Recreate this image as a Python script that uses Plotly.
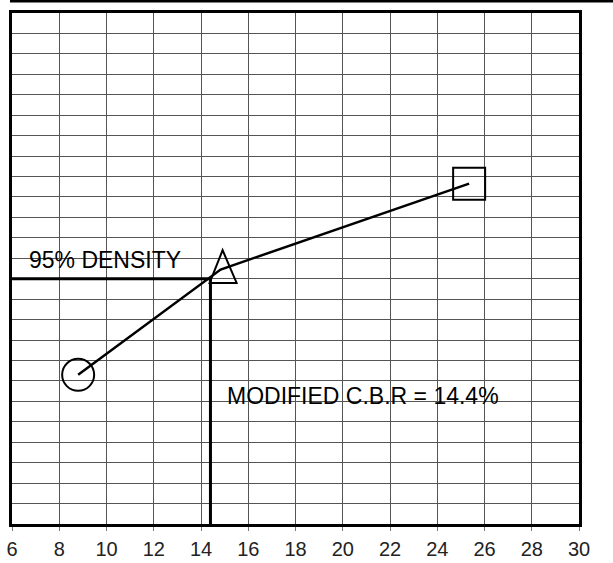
import plotly.graph_objects as go

# ---- data ----
moisture_x = [8.8, 14.83, 25.35]          # x values of the test points
density_y = [7.3, 12.45, 16.65]           # y values of the test points
point_symbols = ["circle-open", "none", "square-open"]
cbr_value = 14.4                          # modified C.B.R (%)
density_95 = 12.0                         # 95% density level
x_tick_start, x_tick_step = 6, 2
x_min, x_max = 6, 30
y_min, y_max = 0, 25

FONT = "Liberation Sans, Arial, Helvetica, sans-serif"
GRID = "#555555"

fig = go.Figure()

# 95% density guide lines
fig.add_trace(go.Scatter(
    x=[x_min, cbr_value, cbr_value], y=[density_95, density_95, y_min],
    mode="lines", line=dict(color="black", width=3),
    hoverinfo="skip", showlegend=False, cliponaxis=False))

# main curve
fig.add_trace(go.Scatter(
    x=moisture_x, y=density_y, mode="lines",
    line=dict(color="black", width=2.5), showlegend=False))

# circle & square markers
fig.add_trace(go.Scatter(
    x=[moisture_x[0], moisture_x[2]], y=[density_y[0], density_y[2]],
    mode="markers",
    marker=dict(symbol=[point_symbols[0], point_symbols[2]], size=32,
                color="black", line=dict(color="black", width=2)),
    showlegend=False, cliponaxis=False))

# triangle marker (tall triangle, pixel-sized path anchored at the data point)
fig.add_shape(type="path", xref="x", yref="y",
              xsizemode="pixel", ysizemode="pixel",
              xanchor=moisture_x[1], yanchor=density_y[1],
              path="M -11,-13.4 L 16,-13.4 L 2,19.3 Z",
              line=dict(color="black", width=2), fillcolor="rgba(0,0,0,0)",
              layer="above")

# stray top rule
fig.add_shape(type="line", xref="paper", yref="paper",
              x0=-0.0035, x1=1.1, y0=1.0231, y1=1.0231,
              line=dict(color="black", width=2.5))

fig.add_annotation(x=x_min, y=density_95, xref="x", yref="y",
                   text="95% DENSITY", showarrow=False,
                   xanchor="left", yanchor="bottom", xshift=15, yshift=4,
                   font=dict(family=FONT, size=23, color="black"))
fig.add_annotation(x=cbr_value, y=6.27, xref="x", yref="y",
                   text=f"MODIFIED C.B.R = {cbr_value}%", showarrow=False,
                   xanchor="left", yanchor="middle", xshift=15,
                   font=dict(family=FONT, size=23, color="black"))

fig.update_layout(
    width=613, height=563,
    margin=dict(l=12, r=34, t=13, b=39, autoexpand=False),
    paper_bgcolor="white", plot_bgcolor="white",
    font=dict(family=FONT, color="#222"),
    showlegend=False,
    xaxis=dict(range=[x_min, x_max], tickmode="linear",
               tick0=x_tick_start, dtick=x_tick_step,
               ticks="outside", ticklen=4, tickwidth=1, tickcolor="#777",
               ticklabelstandoff=1,
               tickfont=dict(family=FONT, size=20, color="#222"),
               showgrid=True, gridcolor=GRID, gridwidth=1,
               showline=True, linecolor="black", linewidth=3, mirror=True,
               zeroline=False, fixedrange=True, automargin=False),
    yaxis=dict(range=[y_min, y_max], tickmode="linear", tick0=y_min, dtick=1,
               showticklabels=False,
               ticks="", showgrid=True, gridcolor=GRID, gridwidth=1,
               showline=True, linecolor="black", linewidth=3, mirror=True,
               zeroline=False, fixedrange=True, automargin=False),
)

fig.write_html("out.html", config={"displayModeBar": False},
               post_script="document.body.style.margin='0';"
                           "document.body.style.overflow='hidden';")
